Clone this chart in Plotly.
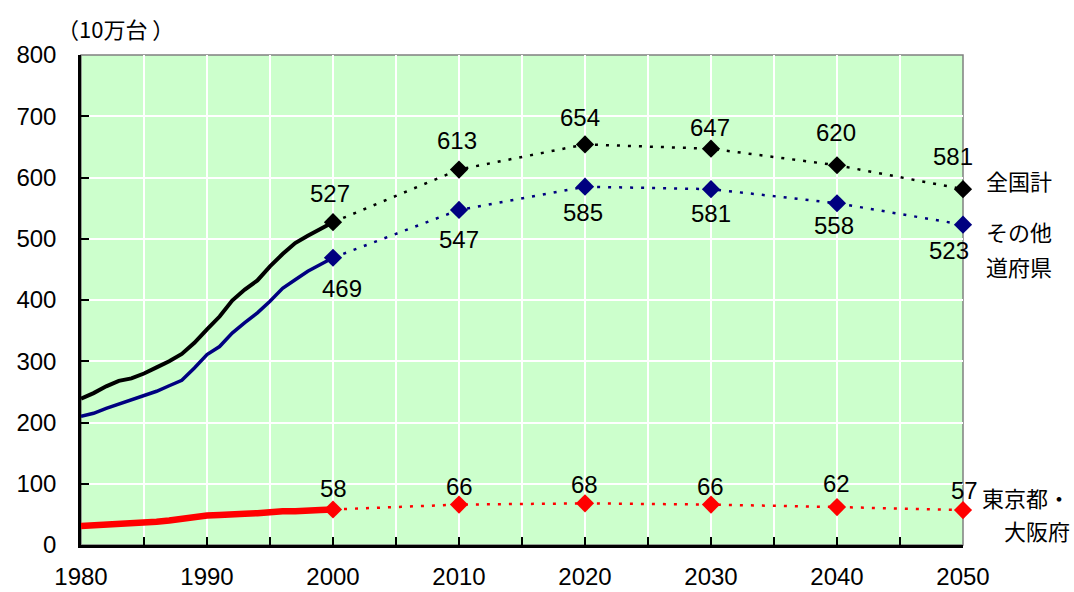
import plotly.graph_objects as go

years_hist = list(range(1980, 2001))
total_hist = [239, 248, 259, 268, 272, 280, 290, 300, 312, 330, 352, 373, 399, 417, 432, 455, 475, 493, 505, 516, 527]
other_hist = [210, 215, 223, 230, 237, 243, 251, 260, 269, 289, 311, 324, 346, 363, 379, 398, 419, 433, 447, 458, 469]
tokyo_hist = [31, 32, 33, 33, 35, 36, 38, 40, 43, 46, 48, 49, 49, 51, 52, 54, 55, 55, 57, 57, 58]

years_proj = [2000, 2010, 2020, 2030, 2040, 2050]
total_proj = [527, 613, 654, 647, 620, 581]
other_proj = [469, 547, 585, 581, 558, 523]
tokyo_proj = [58, 66, 68, 66, 62, 57]

x_ticks = [1980, 1990, 2000, 2010, 2020, 2030, 2040, 2050]
y_ticks = [0, 100, 200, 300, 400, 500, 600, 700, 800]

BLACK = "#000000"
NAVY = "#000080"
RED = "#ff0000"
FONT = "Liberation Sans, Arial, sans-serif"
CJK = "Noto Sans CJK JP, sans-serif"

L, R, T, B = 81, 111, 55, 47
PW, PH = 1074 - L - R, 592 - T - B


def px(x):
    return (x - L) / PW


def py(y):
    return (592 - B - y) / PH


fig = go.Figure()

# projections (dotted)
for ys, col in [(total_proj, BLACK), (other_proj, NAVY), (tokyo_proj, RED)]:
    fig.add_trace(go.Scatter(x=years_proj, y=ys, mode="lines+markers",
                             line=dict(color=col, width=2.5, dash="3px,8px"),
                             marker=dict(symbol="diamond", size=14, color=col),
                             cliponaxis=False, showlegend=False, hoverinfo="skip"))
# history (solid)
for ys, col, w in [(total_hist, BLACK, 4), (other_hist, NAVY, 3.5), (tokyo_hist, RED, 6.5)]:
    fig.add_trace(go.Scatter(x=years_hist, y=ys, mode="lines",
                             line=dict(color=col, width=w),
                             cliponaxis=False, showlegend=False, hoverinfo="skip"))

ann = []
# value labels
tot_dx = [-3, -2, -5, -1, -1, -10]
tot_dy = [29, 29, 27, 21, 33, 33]
for x, y, dx, dy in zip(years_proj, total_proj, tot_dx, tot_dy):
    ann.append(dict(x=x, y=y, text=str(y), xshift=dx, yshift=dy))
oth_dx = [9, 0, -2, 0, -3, -14]
oth_dy = [-31, -30, -26, -24, -22, -26]
for x, y, dx, dy in zip(years_proj, other_proj, oth_dx, oth_dy):
    ann.append(dict(x=x, y=y, text=str(y), xshift=dx, yshift=dy))
tk_dx = [0, 0, -1, -1, -1, 1]
tk_dy = [21, 18, 19, 18, 24, 20]
for x, y, dx, dy in zip(years_proj, tokyo_proj, tk_dx, tk_dy):
    ann.append(dict(x=x, y=y, text=str(y), xshift=dx, yshift=dy))
for a in ann:
    a.update(xref="x", yref="y", showarrow=False, font=dict(family=FONT, size=24, color="#000"))

cj = dict(family=CJK, size=22, color="#000")
ann += [
    dict(x=px(984), y=py(180), text="全国計", xanchor="left"),
    dict(x=px(984), y=py(231), text="その他", xanchor="left"),
    dict(x=px(984), y=py(266), text="道府県", xanchor="left"),
    dict(x=px(1072), y=py(497), text="東京都・", xanchor="right"),
    dict(x=px(1072), y=py(530), text="大阪府", xanchor="right"),
]
for a in ann[-5:]:
    a.update(xref="paper", yref="paper", showarrow=False, font=cj, yanchor="middle")
ann.append(dict(xref="paper", yref="paper", x=px(115), y=py(28), text="（10万台 ）",
                xanchor="center", yanchor="middle", showarrow=False,
                font=dict(family=CJK, size=22, color="#000")))

fig.update_layout(
    width=1074, height=592,
    margin=dict(l=L, r=R, t=T, b=B, autoexpand=False),
    paper_bgcolor="white", plot_bgcolor="#ccffcc",
    annotations=ann,
    shapes=[dict(type="rect", xref="paper", yref="paper", x0=0, x1=1, y0=0, y1=1,
                 line=dict(color="#808080", width=1.5), layer="below")],
    xaxis=dict(range=[1980, 2050], tickvals=x_ticks, ticktext=[str(v) for v in x_ticks],
               ticks="inside", ticklen=8, tickwidth=2, tickcolor="#000",
               showline=True, linecolor="#000", linewidth=2.5,
               showgrid=True, gridcolor="white", gridwidth=1.5,
               minor=dict(dtick=5, tick0=1980, ticks="inside", ticklen=8, tickwidth=2, tickcolor="#000",
                          showgrid=True, gridcolor="white", gridwidth=1.5),
               tickfont=dict(family=FONT, size=24, color="#000"), ticklabelstandoff=8,
               zeroline=False, automargin=False),
    yaxis=dict(range=[0, 800], tickvals=y_ticks, ticktext=[str(v) for v in y_ticks],
               ticks="inside", ticklen=8, tickwidth=2, tickcolor="#000",
               showline=True, linecolor="#000", linewidth=2.5,
               showgrid=True, gridcolor="white", gridwidth=1.5,
               tickfont=dict(family=FONT, size=24, color="#000"), ticklabelstandoff=17,
               zeroline=False, automargin=False),
)

fig.write_html("out.html", config={"displayModeBar": False},
               post_script="document.body.style.margin='0';")
